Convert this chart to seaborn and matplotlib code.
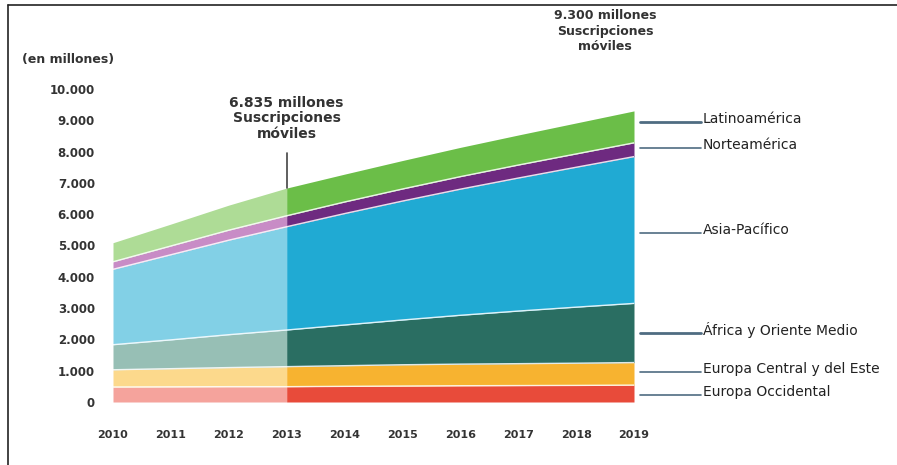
import numpy as np
import pandas as pd
import seaborn as sns
import matplotlib.pyplot as plt
from matplotlib.lines import Line2D

# Mobile subscriptions by region (millions)
years = [2010, 2011, 2012, 2013, 2014, 2015, 2016, 2017, 2018, 2019]
europa_occidental = [480, 485, 490, 490, 500, 510, 520, 525, 530, 540]
europa_central = [550, 580, 610, 640, 660, 680, 690, 700, 710, 720]
africa_oriente = [800, 920, 1050, 1170, 1300, 1430, 1560, 1680, 1790, 1890]
asia_pacifico = [2410, 2720, 3020, 3300, 3560, 3800, 4030, 4250, 4470, 4690]
norteamerica = [240, 280, 320, 350, 370, 385, 400, 415, 425, 440]
latinoamerica = [610, 700, 800, 885, 890, 910, 935, 960, 990, 1020]

regions = ["Europa Occidental", "Europa Central y del Este", "África y Oriente Medio",
           "Asia-Pacífico", "Norteamérica", "Latinoamérica"]
series = [europa_occidental, europa_central, africa_oriente,
          asia_pacifico, norteamerica, latinoamerica]

y_ticks = [0, 1000, 2000, 3000, 4000, 5000, 6000, 7000, 8000, 9000, 10000]
y_tick_labels = ["0", "1.000", "2.000", "3.000", "4.000", "5.000",
                 "6.000", "7.000", "8.000", "9.000", "10.000"]

split_year = 2013
total_2013 = "6.835 millones\nSuscripciones\nmóviles"
total_2019 = "9.300 millones\nSuscripciones\nmóviles"

light_colors = ["#F5A39C", "#FCD98C", "#97BFB5", "#82D0E6", "#C88CC6", "#AEDC96"]
dark_colors = ["#E84B3A", "#F7B330", "#2A6E62", "#20AAD3", "#6E2A80", "#6BBE48"]

sns.set_theme(style="white")
plt.rcParams["font.family"] = ["DejaVu Sans"]

fig = plt.figure(figsize=(8.97, 4.65), dpi=100)
ax = fig.add_axes([113 / 897, (465 - 402) / 465, (634 - 113) / 897, (402 - 89) / 465])

x = np.array(years, dtype=float)
vals = np.array(series, dtype=float)
cum = np.vstack([np.zeros(len(years)), np.cumsum(vals, axis=0)])

hist = x <= split_year
proj = x >= split_year
for i in range(len(regions)):
    ax.fill_between(x[hist], cum[i][hist], cum[i + 1][hist],
                    color=light_colors[i], linewidth=0)
    ax.fill_between(x[proj], cum[i][proj], cum[i + 1][proj],
                    color=dark_colors[i], linewidth=0)

# thin white separators between stacked layers
bounds = pd.DataFrame({"year": np.tile(x, len(regions) - 1),
                       "value": np.concatenate([cum[i] for i in range(1, len(regions))]),
                       "layer": np.repeat(np.arange(1, len(regions)), len(years))})
sns.lineplot(data=bounds, x="year", y="value", units="layer", estimator=None,
             color="white", linewidth=1.0, alpha=0.85, ax=ax, legend=False)

ax.set_xlim(2010, 2019)
ax.set_ylim(0, 10000)
ax.set_xticks(years)
ax.set_xticklabels([str(y) for y in years], fontsize=8, fontweight="bold", color="#333333")
ax.set_yticks(y_ticks)
ax.set_yticklabels(y_tick_labels, fontsize=8.5, fontweight="bold", color="#333333")
ax.tick_params(axis="x", length=0, pad=20)
ax.tick_params(axis="y", length=0, pad=13)
ax.set_xlabel("")
ax.set_ylabel("")
sns.despine(ax=ax, left=True, bottom=True)

# marker at the 2013 total
total13 = cum[-1][years.index(split_year)]
ax.plot([split_year, split_year], [total13, total13 + 1120], color="#444444", linewidth=1.2)
ax.text(split_year, total13 + 1500, total_2013, ha="center", va="bottom",
        fontsize=10, fontweight="bold", color="#333333", linespacing=1.15)

fig.text(605 / 897, 1 - 9 / 465, total_2019, ha="center", va="top",
         fontsize=9, fontweight="bold", color="#333333", linespacing=1.25)
fig.text(22 / 897, 1 - 60 / 465, "(en millones)", ha="left", va="center",
         fontsize=9, fontweight="bold", color="#333333")

# region labels with leader lines
label_y = {"Latinoamérica": 122, "Norteamérica": 148, "Asia-Pacífico": 233,
           "África y Oriente Medio": 333, "Europa Central y del Este": 372,
           "Europa Occidental": 395}
label_lw = {"Latinoamérica": 2.0, "Norteamérica": 1.2, "Asia-Pacífico": 1.2,
            "África y Oriente Medio": 2.0, "Europa Central y del Este": 1.2,
            "Europa Occidental": 1.2}
for name in regions:
    yy = 1 - label_y[name] / 465
    fig.add_artist(Line2D([640 / 897, 701 / 897], [yy, yy], color="#4F6C82",
                          linewidth=label_lw[name]))
    fig.text(703 / 897, yy + 3 / 465, name, ha="left", va="center",
             fontsize=10, color="#222222")

# frame on the left and top edges
fig.add_artist(Line2D([8 / 897, 8 / 897], [0, 1 - 5 / 465], color="#222222", linewidth=1.2))
fig.add_artist(Line2D([8 / 897, 1], [1 - 5 / 465, 1 - 5 / 465], color="#222222", linewidth=1.2))

fig.savefig("out.png", dpi=100, facecolor="white")
